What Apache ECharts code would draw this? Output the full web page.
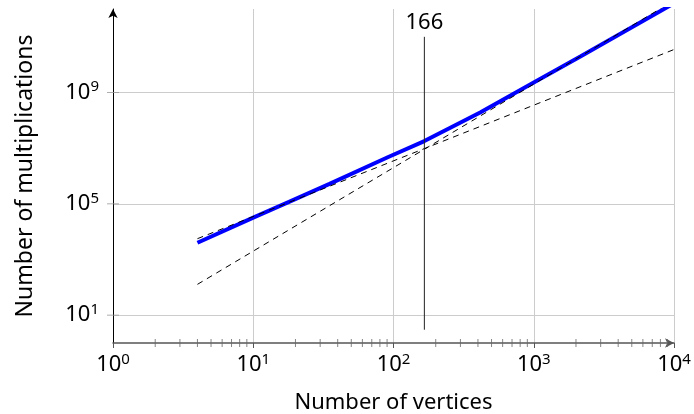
<!DOCTYPE html>
<html lang="en">
<head>
<meta charset="UTF-8">
<title>Number of multiplications</title>
<script src="https://cdn.jsdelivr.net/npm/echarts@6/dist/echarts.min.js"></script>
<style>
html,body{margin:0;padding:0;background:#fff}
#chart{width:694px;height:414px}
</style>
</head>
<body>
<div id="chart"></div>
<script>
// values (log-log)
var vertices = [4, 10, 18, 35, 91, 166, 415, 1000, 2150, 10000];
var multiplications = [4.0e3, 3.2e4, 1.17e5, 5.2e5, 4.7e6, 1.8e7, 1.9e8, 2.3e9, 1.95e10, 1.6e12];
var fitVertices = [4, 10000];
var fitQuadratic = [5.6e3, 3.5e10];
var fitCubic = [128, 2e12];
var crossover = 166;
var crossoverSpan = [3, 1e11];
var yLabelExp = [1, 5, 9];
var xMinorTicks = [2, 3, 4, 5, 6, 7, 8, 9,
                   20, 30, 40, 50, 60, 70, 80, 90,
                   200, 300, 400, 500, 600, 700, 800, 900,
                   2000, 3000, 4000, 5000, 6000, 7000, 8000, 9000];

var FONT = 'Noto Sans';
function lg(v) { return Math.log10(v); }
function pairs(xs, ys) { return xs.map(function (x, i) { return [lg(x), lg(ys[i])]; }); }

var rich = {
  b: { fontSize: 22, lineHeight: 26, fontFamily: FONT, color: '#000' },
  s: { fontSize: 15, lineHeight: 15, verticalAlign: 'top', fontFamily: FONT, color: '#000' }
};

var myChart = echarts.init(document.getElementById('chart'));
var option = {
  animation: false,
  grid: { left: 113, right: 20, top: 9, bottom: 71, outerBoundsMode: 'none', containLabel: false },
  xAxis: {
    type: 'value', min: 0, max: 4, interval: 1,
    axisLine: { show: true, lineStyle: { color: '#555', width: 1.5 }, symbol: ['none', 'arrow'], symbolSize: [7, 9] },
    axisTick: { show: true, length: 5, lineStyle: { color: '#555' } },
    splitLine: { show: true, lineStyle: { color: '#ccc', width: 1 } },
    axisLabel: {
      margin: 9,
      formatter: function (v) { return '{b|10}{s|' + v + '}'; },
      rich: rich
    },
    name: 'Number of vertices', nameLocation: 'middle', nameGap: 49,
    nameTextStyle: { fontSize: 22, color: '#000', fontFamily: FONT }
  },
  yAxis: {
    type: 'value', min: 0, max: 12, interval: 1,
    axisLine: { show: true, lineStyle: { color: '#000', width: 1 }, symbol: ['none', 'arrow'], symbolSize: [7, 9] },
    axisTick: { show: false },
    splitLine: { show: true, lineStyle: { color: ['rgba(0,0,0,0)', '#ccc', 'rgba(0,0,0,0)', 'rgba(0,0,0,0)'], width: 1 } },
    axisLabel: {
      margin: 14,
      formatter: function (v) { return yLabelExp.indexOf(v) >= 0 ? '{b|10}{s|' + v + '}' : ''; },
      rich: rich
    },
    name: 'Number of multiplications', nameLocation: 'middle', nameGap: 76,
    nameTextStyle: { fontSize: 23, color: '#000', fontFamily: FONT }
  },
  series: [
    {
      type: 'line', z: 2,
      data: pairs(vertices, multiplications),
      showSymbol: false,
      lineStyle: { color: '#0000ff', width: 4 }
    },
    {
      type: 'line', z: 3,
      data: pairs(fitVertices, fitQuadratic),
      showSymbol: false,
      lineStyle: { color: '#000', width: 1, type: [6, 5] }
    },
    {
      type: 'line', z: 3,
      data: pairs(fitVertices, fitCubic),
      showSymbol: false,
      lineStyle: { color: '#000', width: 1, type: [6, 5] }
    },
    {
      type: 'line', z: 4,
      data: [
        [lg(crossover), lg(crossoverSpan[0])],
        { value: [lg(crossover), lg(crossoverSpan[1])],
          label: { show: true, position: 'top', distance: 3, formatter: String(crossover),
                   fontSize: 22, color: '#000', fontFamily: FONT } }
      ],
      symbol: 'circle', symbolSize: 0, showSymbol: true,
      lineStyle: { color: '#222', width: 1 }
    },
    {
      type: 'scatter', z: 5, silent: true, clip: false,
      data: xMinorTicks.map(function (v) { return [lg(v), 0]; }),
      symbol: 'rect', symbolSize: [1, 8],
      itemStyle: { color: '#666' }
    },
    {
      type: 'scatter', z: 5, silent: true, clip: false,
      data: yLabelExp.map(function (e) { return [0, e]; }),
      symbol: 'rect', symbolSize: [12, 1],
      itemStyle: { color: '#999' }
    }
  ]
};
myChart.setOption(option);
</script>
</body>
</html>
